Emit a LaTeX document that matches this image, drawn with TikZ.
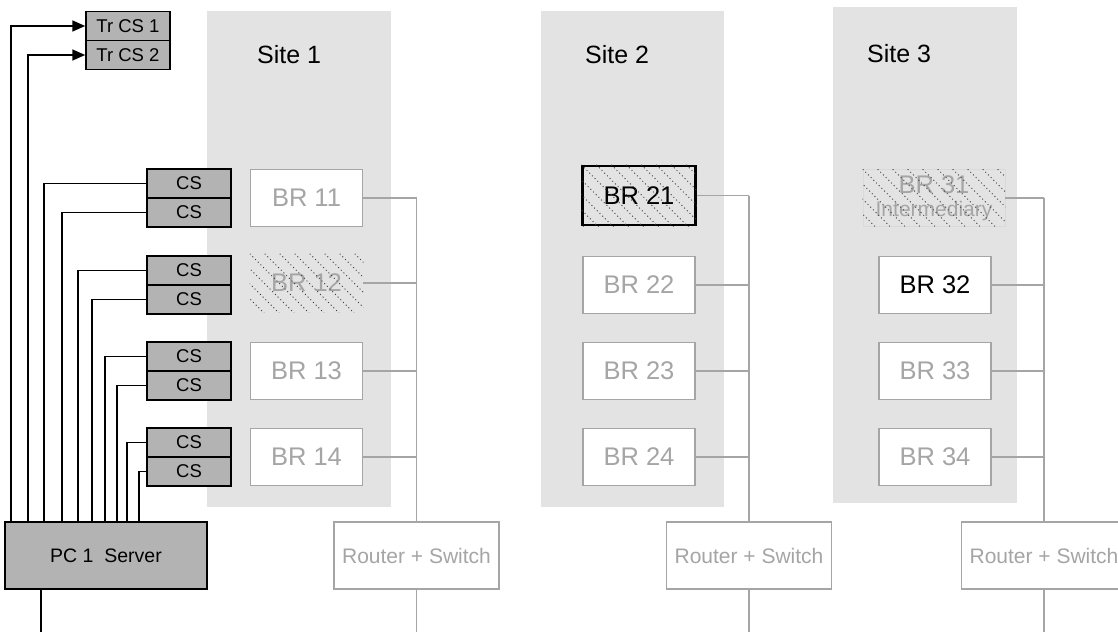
\documentclass[tikz,border=0pt]{standalone}
\usepackage{fontspec}
\setmainfont{Liberation Sans}
\usepackage{tikz}
\usetikzlibrary{arrows.meta,positioning}
\definecolor{sitebg}{HTML}{E3E3E3}
\definecolor{csfill}{HTML}{B3B3B3}
\definecolor{faint}{HTML}{A5A5A5}
\tikzset{
  site/.style   = {fill=sitebg, draw=none},
  sitelbl/.style= {anchor=west, inner sep=0pt, font=\fontsize{25}{27}\selectfont},
  br/.style     = {draw=faint, line width=1.5pt, fill=white, text=faint, inner sep=0pt,
                   minimum width=112pt, minimum height=57pt, font=\fontsize{25.5}{26}\selectfont},
  cs/.style     = {draw=black, line width=1.5pt, fill=csfill, inner sep=0pt,
                   minimum width=84pt, minimum height=29pt, font=\fontsize{18.5}{20}\selectfont},
  router/.style = {draw=faint, line width=1.5pt, fill=white, text=faint, inner sep=0pt,
                   minimum width=165pt, minimum height=67pt, font=\fontsize{21}{22}\selectfont},
  server/.style = {draw=black, line width=1.6pt, fill=csfill, inner sep=0pt,
                   minimum width=202pt, minimum height=67pt, font=\fontsize{19.5}{21}\selectfont},
  wire/.style   = {line width=1.6pt},
  bus/.style    = {draw=faint, line width=1.5pt},
  tip/.style    = {-{Triangle[length=13pt,width=11pt]}, line width=1.6pt},
  dots/.style   = {black!75, line width=1pt, dash pattern=on 1pt off 2.8pt},
}

\begin{document}
\begin{tikzpicture}[x=1pt,y=-1pt]
  \useasboundingbox (0,0) rectangle (1118,632);
  \coordinate (floor) at (0,632);
  % sites
  \fill[site] (207,11) rectangle (391,507);
  \fill[site] (541,11) rectangle (724,507);
  \fill[site] (833,7) rectangle (1017,503);
  \node[sitelbl] (s1) at (257,55) {Site 1};
  \node[sitelbl] (s2) at (585,55) {Site 2};
  \node[sitelbl] (s3) at (867,54) {Site 3};

  % border routers
  \foreach \n/\x/\y in {11/306.5/198,13/306.5/371,14/306.5/457,
                        22/639/285,23/639/371,24/639/457,
                        33/935/371,34/935/457}
    \node[br] (br\n) at (\x,\y) {BR \n};
  \node[br, draw=none, fill=none] (br12) at (306.5,283) {BR 12};
  \node[br, fill=none, draw=black, line width=2.5pt, text=black, minimum width=113pt,
    minimum height=59pt] (br21) at (639,195.5) {BR 21};
  \node[br, fill=none, line width=0.6pt, draw=black!15, minimum width=142pt, align=center,
    font=\fontsize{25.5}{23}\selectfont] (br31) at (934,198)
    {BR 31\\{\fontsize{21}{22}\selectfont Intermediary}};
  \node[br, text=black] (br32) at (935,285) {BR 32};
  \foreach \h in {br12,br21,br31}{
    \begin{scope}
      \clip (\h.south west) rectangle (\h.north east);
      \foreach \k in {-5,...,10}
        \draw[dots] ([xshift=\k*15pt]\h.north west) -- ++(90,90);
    \end{scope}}

  % routers and buses
  \foreach \s/\x in {1/416.5,2/749,3/1044}{
    \node[router] (rt\s) at (\x,555.5) {Router + Switch};
    \draw[bus] (br\s1.east -| rt\s.north) -- (rt\s.north);
    \draw[bus] (rt\s.south) -- (rt\s.south |- floor);
    \foreach \r in {1,...,4}
      \draw[bus] (br\s\r.east) -- (br\s\r.east -| rt\s.north);}

  % control side
  \node[server] (srv) at (106,555.5) {PC 1~ Server};
  \node[cs] (trcs1) at (128,26) {Tr CS 1};
  \node[cs] (trcs2) at (128,55) {Tr CS 2};
  \foreach \r/\y in {1/198,2/285,3/371,4/457}{
    \node[cs] (cs\r a) at (189,\y-14.5) {CS};
    \node[cs] (cs\r b) at (189,\y+14.5) {CS};}
  \draw[tip] ([xshift=7pt]srv.north west) |- (trcs1.west);
  \draw[tip] ([xshift=24pt]srv.north west) |- (trcs2.west);
  \foreach \n/\d in {1a/40,1b/58,2a/74,2b/88,3a/101,3b/113,4a/123,4b/135}
    \draw[wire] ([xshift=\d pt]srv.north west) |- (cs\n.west);
  \coordinate (out) at (41,632);
  \draw[wire] (out |- srv.south) -- (out);
\end{tikzpicture}
\end{document}
